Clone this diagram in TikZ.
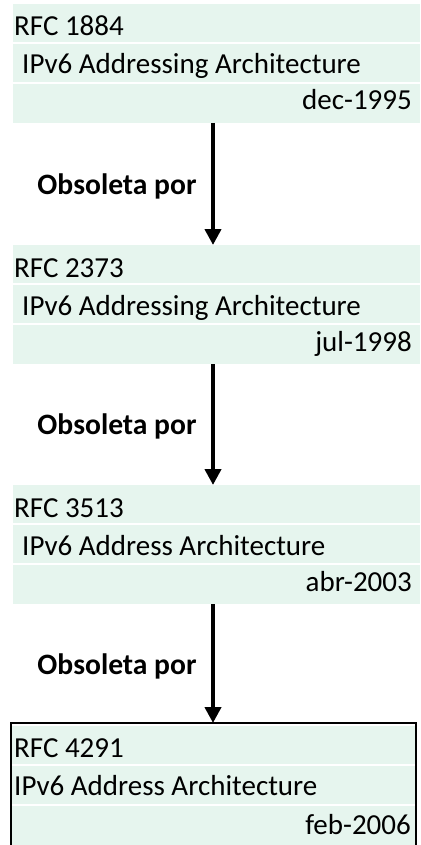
\documentclass[tikz,border=0pt]{standalone}
\usepackage{fontspec}
\setmainfont{Carlito}
\usetikzlibrary{arrows.meta}
\definecolor{rowfill}{RGB}{230,245,238}
\begin{document}
\begin{tikzpicture}[x=1pt,y=-1pt,
  rowbox/.style={fill=rowfill,draw=none,inner sep=0pt,outer sep=0pt,anchor=north west,minimum height=#1},
  rowbox/.default=38pt,
  txt/.style={inner sep=0pt,font=\fontsize{29}{34}\selectfont},
  lbl/.style={inner sep=0pt,font=\fontsize{29.6}{34}\selectfont\bfseries,anchor=base},
  obs/.style={line width=4pt,-{Triangle[width=16pt,length=16pt]}}]
\useasboundingbox (0,0) rectangle (420,845);

% three plain entries
\foreach \i/\t/\num/\title/\date in {1/4/1884/IPv6 Addressing Architecture/dec-1995,
                                   2/245/2373/IPv6 Addressing Architecture/jul-1998,
                                   3/485/3513/IPv6 Address Architecture/abr-2003}{
  \node[rowbox,minimum width=407pt] (b\i a) at (13,\t) {};
  \node[rowbox,minimum width=407pt] (b\i b) at (13,\t+40) {};
  \node[rowbox=39pt,minimum width=407pt] (b\i c) at (13,\t+80) {};
  \node[txt,anchor=base west] (t\i a) at (14,\t+32) {RFC \num};
  \node[txt,anchor=base west] (t\i b) at (22,\t+70) {\title};
  \node[txt,anchor=base east] (t\i c) at (412,\t+106) {\date};
}

% last entry, framed
\node[rowbox,minimum width=403pt] (b4a) at (12,726) {};
\node[rowbox,minimum width=403pt] (b4b) at (12,766) {};
\node[rowbox=40pt,minimum width=403pt] (b4c) at (12,806) {};
\draw[line width=2pt] (11,723) rectangle (416,847);
\node[txt,anchor=base west] (t4a) at (14,757) {RFC 4291};
\node[txt,anchor=base west] (t4b) at (14,795) {IPv6 Address Architecture};
\node[txt,anchor=base east] (t4c) at (411,834) {feb-2006};

% succession arrows
\coordinate (ax) at (213,0);
\draw[obs] (b1c.south -| ax) -- (b2a.north -| ax);
\draw[obs] (b2c.south -| ax) -- (b3a.north -| ax);
\draw[obs] (b3c.south -| ax) -- (11,723 -| ax);
\node[lbl] (l1) at (117,194) {Obsoleta por};
\node[lbl] (l2) at (117,434) {Obsoleta por};
\node[lbl] (l3) at (117,674) {Obsoleta por};
\end{tikzpicture}
\end{document}
